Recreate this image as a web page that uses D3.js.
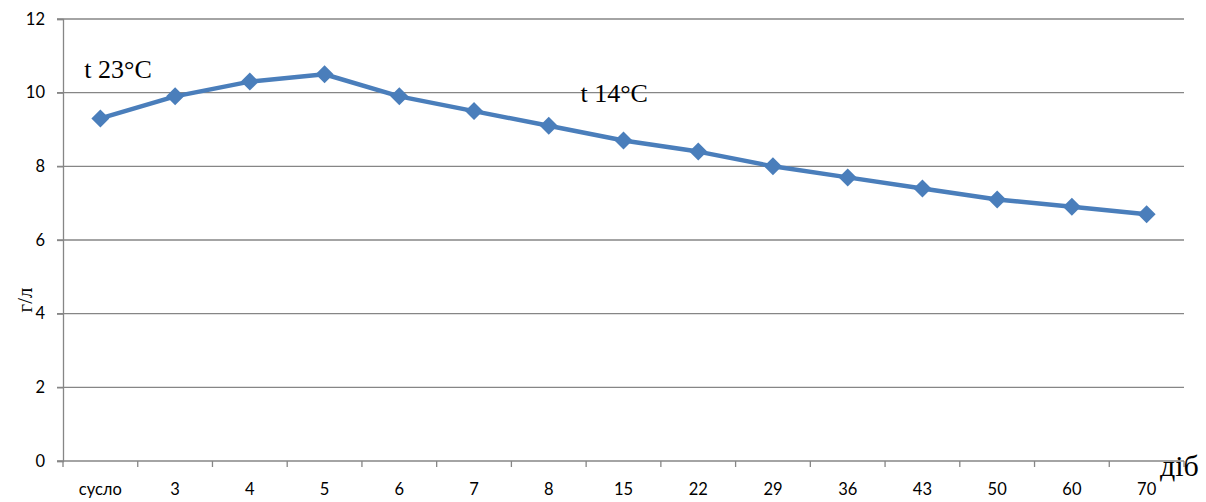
<!DOCTYPE html>
<html>
<head>
<meta charset="utf-8">
<script src="https://cdn.jsdelivr.net/npm/d3@7"></script>
<style>
  html, body { margin: 0; padding: 0; background: #fff; }
  svg { display: block; }
</style>
</head>
<body>
<svg id="chart" width="1206" height="502"></svg>
<script>
// Days of fermentation and measured concentration (g/l)
const categories = ["сусло", "3", "4", "5", "6", "7", "8", "15", "22", "29", "36", "43", "50", "60", "70"];
const values = [9.3, 9.9, 10.3, 10.5, 9.9, 9.5, 9.1, 8.7, 8.4, 8.0, 7.7, 7.4, 7.1, 6.9, 6.7];
const yTicks = [0, 2, 4, 6, 8, 10, 12];
const annotations = [
  { text: "t 23°C", cat: "сусло", value: 10.4, dx: -16 },
  { text: "t 14°C", cat: "15", value: 9.75, dx: -43 }
];

(function draw() {
  const svg = d3.select("#chart");
  const plotLeft = 63, plotRight = 1184, plotTop = 19, plotBottom = 461;

  const x = d3.scaleBand().domain(categories).range([plotLeft, plotRight]);
  const y = d3.scaleLinear().domain([0, 12]).range([plotBottom, plotTop]);

  const gridColor = "#868686";
  const lineColor = "#4A7EBB";
  const labelFont = "Lato, 'Open Sans', sans-serif";
  const serifFont = "'Liberation Serif', 'Times New Roman', serif";

  // Horizontal gridlines with short outward ticks
  svg.append("g")
    .selectAll("line")
    .data(yTicks.filter(d => d > 0))
    .join("line")
    .attr("x1", plotLeft - 6).attr("x2", plotRight)
    .attr("y1", d => y(d)).attr("y2", d => y(d))
    .attr("stroke", gridColor).attr("stroke-width", 1.3);

  // Y axis
  const yAxis = svg.append("g")
    .attr("transform", `translate(${plotLeft},0)`)
    .call(d3.axisLeft(y).tickValues(yTicks).tickSize(6).tickPadding(12));
  yAxis.select(".domain").attr("stroke", gridColor).attr("stroke-width", 1.3);
  yAxis.selectAll(".tick line").attr("stroke", gridColor).attr("stroke-width", 1.3);
  yAxis.selectAll(".tick text")
    .attr("font-family", labelFont)
    .attr("font-size", 16.5).attr("fill", "#000");

  // X axis: ticks at category boundaries
  const xAxisG = svg.append("g").attr("transform", `translate(0,${plotBottom})`);
  xAxisG.append("line")
    .attr("x1", plotLeft - 6).attr("x2", plotRight)
    .attr("stroke", gridColor).attr("stroke-width", 1.3);
  const boundaries = categories.map(c => x(c)).concat([plotRight]);
  xAxisG.selectAll("line.tk")
    .data(boundaries)
    .join("line").attr("class", "tk")
    .attr("x1", d => d).attr("x2", d => d)
    .attr("y1", 0).attr("y2", 6)
    .attr("stroke", gridColor).attr("stroke-width", 1.3);
  xAxisG.selectAll("text")
    .data(categories)
    .join("text")
    .attr("x", d => x(d) + x.bandwidth() / 2)
    .attr("y", 34)
    .attr("text-anchor", "middle")
    .attr("font-family", labelFont)
    .attr("font-size", 16.5).attr("fill", "#000")
    .text(d => d);

  // Data line
  const pts = categories.map((c, i) => [x(c) + x.bandwidth() / 2, y(values[i])]);
  svg.append("path")
    .attr("d", d3.line()(pts))
    .attr("fill", "none")
    .attr("stroke", lineColor)
    .attr("stroke-width", 4.5)
    .attr("stroke-linejoin", "round");

  // Diamond markers
  svg.append("g")
    .selectAll("path")
    .data(pts)
    .join("path")
    .attr("transform", d => `translate(${d[0]},${d[1]})`)
    .attr("d", "M0,-9L9,0L0,9L-9,0Z")
    .attr("fill", lineColor);

  // Temperature annotations
  svg.append("g")
    .selectAll("text")
    .data(annotations)
    .join("text")
    .attr("x", d => x(d.cat) + x.bandwidth() / 2 + d.dx)
    .attr("y", d => y(d.value))
    .attr("font-family", serifFont)
    .attr("font-size", 26).attr("fill", "#000")
    .text(d => d.text);

  // Axis titles
  svg.append("text")
    .attr("transform", `translate(32,300) rotate(-90)`)
    .attr("text-anchor", "middle")
    .attr("font-family", serifFont)
    .attr("font-size", 21).attr("fill", "#000")
    .text("г/л");

  svg.append("text")
    .attr("x", 1160).attr("y", 476)
    .attr("font-family", serifFont)
    .attr("font-size", 30).attr("fill", "#000")
    .text("діб");
})();
</script>
</body>
</html>
